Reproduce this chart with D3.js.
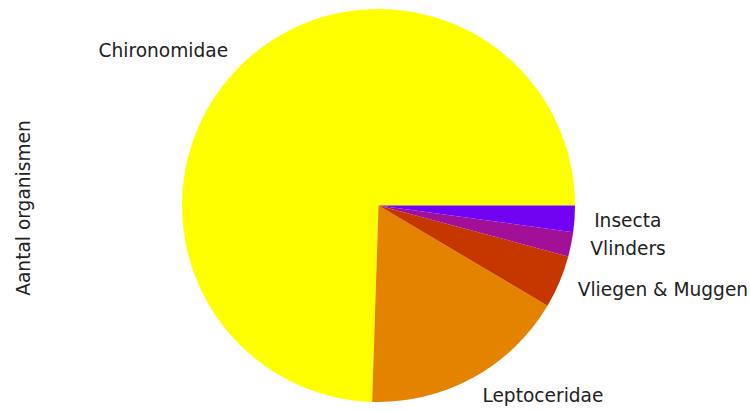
<!DOCTYPE html>
<html>
<head>
<meta charset="utf-8">
<script src="https://cdn.jsdelivr.net/npm/d3@7"></script>
<style>
  body { margin: 0; background: #fff; }
  text { font-family: "DejaVu Sans", sans-serif; }
</style>
</head>
<body>
<div id="chart"></div>
<script>
const categories = ["Chironomidae", "Leptoceridae", "Vliegen & Muggen", "Vlinders", "Insecta"];
const counts = [1372, 313, 80, 37, 40];
const colors = ["#ffff00", "#e48300", "#c63700", "#a11096", "#7202f2"];
const yLabel = "Aantal organismen";

const width = 750, height = 411;
const cx = 378.5, cy = 205.5, radius = 196.5;
const fontSize = 18.6;

const svg = d3.select("#chart")
  .append("svg")
  .attr("width", width)
  .attr("height", height);

// matplotlib style: start at 3 o'clock, go counterclockwise
const pie = d3.pie()
  .sort(null)
  .startAngle(Math.PI / 2)
  .endAngle(Math.PI / 2 - 2 * Math.PI);

const slices = pie(counts);

const arc = d3.arc().innerRadius(0).outerRadius(radius);

const g = svg.append("g")
  .attr("transform", `translate(${cx},${cy})`);

g.selectAll("path")
  .data(slices)
  .enter()
  .append("path")
  .attr("d", arc)
  .attr("fill", (d, i) => colors[i]);

// labels at 1.1 * radius
const mid = d => (d.startAngle + d.endAngle) / 2;

g.selectAll(".label")
  .data(slices)
  .enter()
  .append("text")
  .attr("class", "label")
  .attr("x", d => 1.1 * radius * Math.sin(mid(d)))
  .attr("y", d => -1.1 * radius * Math.cos(mid(d)))
  .attr("dy", "0.35em")
  .attr("text-anchor", d => Math.sin(mid(d)) > 0 ? "start" : "end")
  .attr("font-size", fontSize)
  .attr("fill", "#222")
  .text((d, i) => categories[i]);

svg.append("text")
  .attr("transform", "translate(30,208) rotate(-90)")
  .attr("text-anchor", "middle")
  .attr("font-size", fontSize)
  .attr("fill", "#222")
  .text(yLabel);
</script>
</body>
</html>
